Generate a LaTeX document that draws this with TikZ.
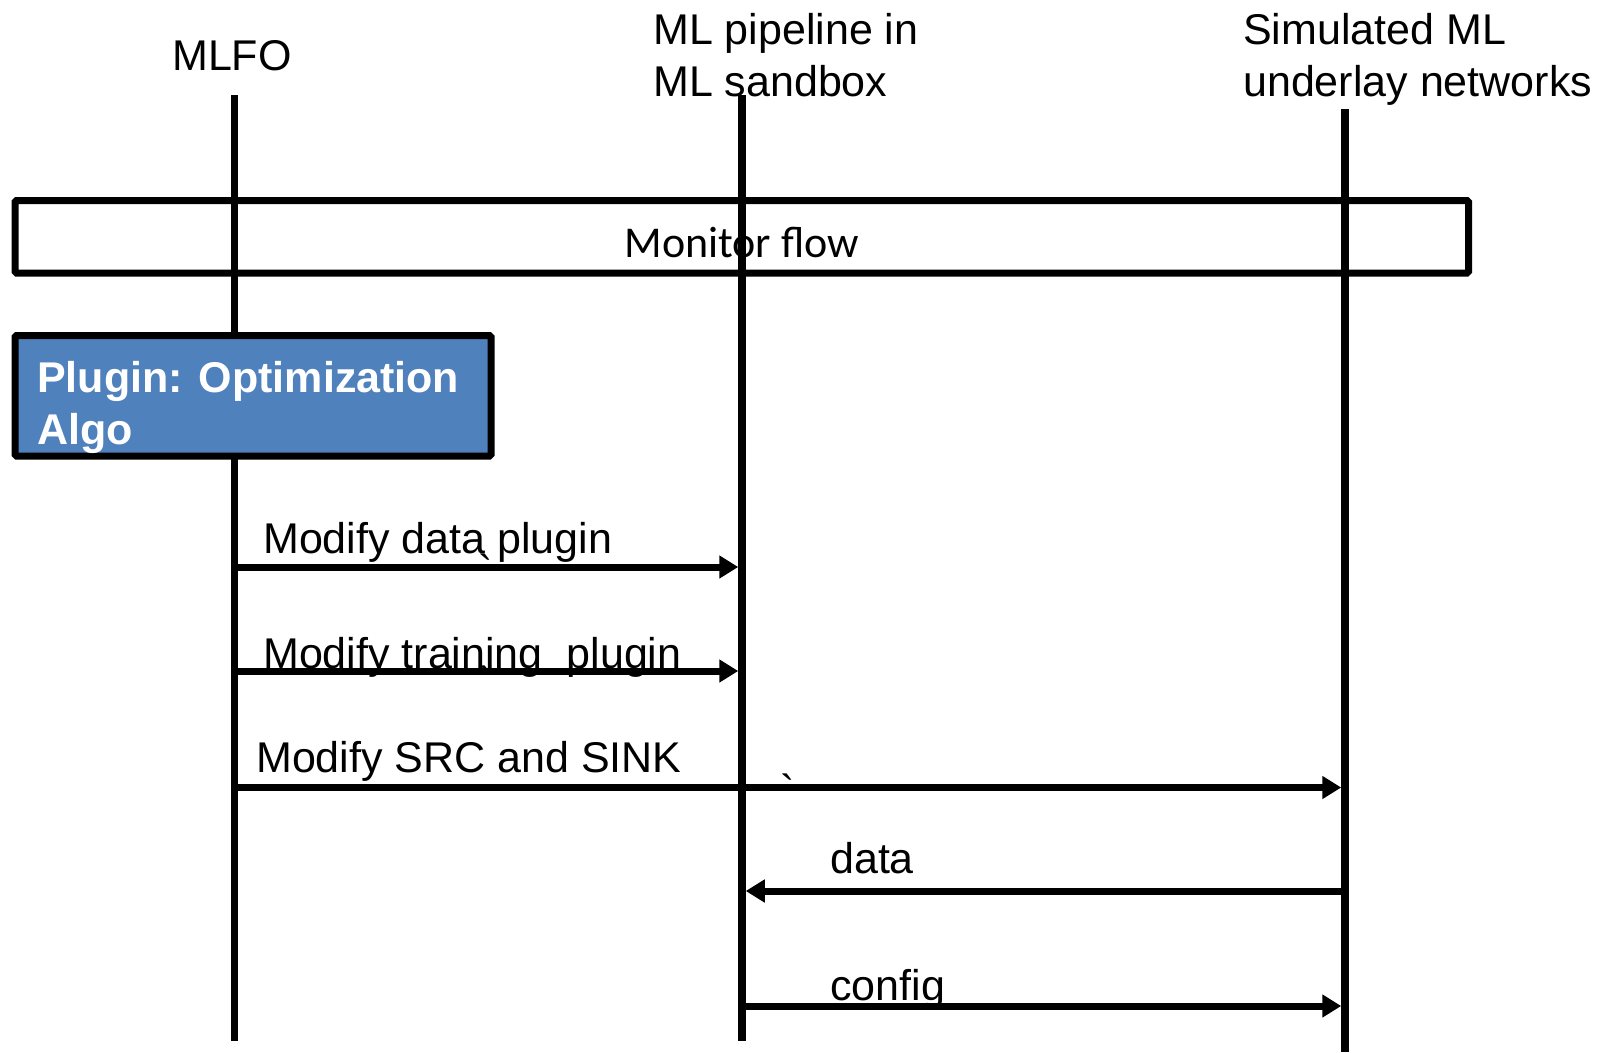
\documentclass[tikz,border=0pt]{standalone}
\usepackage{fontspec}
\setmainfont{Liberation Sans}
\newfontfamily\framefont{Carlito}
\usetikzlibrary{arrows.meta}
\definecolor{pluginblue}{HTML}{4F81BD}
\begin{document}
\begin{tikzpicture}[x=1pt,y=-1pt,
  txt/.style={inner sep=0pt, anchor=base west, font=\fontsize{43}{52}\selectfont},
  heading/.style={txt, align=left},
  lifeline/.style={line width=7.5pt},
  framebox/.style={draw, line width=7pt, rounded corners=1.5pt, inner sep=0pt, outer sep=0pt},
  msg/.style={line width=7pt, -{Triangle[length=19pt,width=22pt]}},
  stray/.style={inner sep=0pt, anchor=base, font=\fontsize{43}{52}\selectfont}
]
\useasboundingbox (0,0) rectangle (1608,1052);

% participants (multi-line headings are placed by their last baseline)
\node[txt] (mlfo) at (172,70) {MLFO};
\node[heading] (pipe) at (653,96) {ML pipeline in\\ML sandbox};
\node[heading] (sim) at (1243,96) {Simulated ML\\underlay networks};

\coordinate (mlfoTop) at (234.5,95);
\coordinate (mlfoBot) at (234.5,1041);
\coordinate (pipeTop) at (742,95);
\coordinate (pipeBot) at (742,1041);
\coordinate (simTop) at (1345,109);
\coordinate (simBot) at (1345,1052);

% monitor frame across all lifelines (lifelines are drawn over it)
\node[framebox, minimum width=1453.5pt, minimum height=72.5pt,
      text height=42pt, text depth=0pt,
      font=\framefont\fontsize{44}{52}\selectfont] (monitor) at (741.75,236.75) {Monitor flow};

% lifelines
\draw[lifeline] (mlfoTop) -- (mlfoBot);
\draw[lifeline] (pipeTop) -- (pipeBot);
\draw[lifeline] (simTop) -- (simBot);

% plugin box covering the MLFO lifeline
\node[framebox, fill=pluginblue, anchor=north west,
      minimum width=476pt, minimum height=120.5pt] (plugin) at (15,335.5) {};
\node[txt, align=left, text=white, font=\bfseries\fontsize{43}{52}\selectfont]
      (pluginText) at (37,444) {Plugin: Optimization\\Algo};

% message end points
\coordinate (m1s) at (234.5,567);  \coordinate (m1e) at (738.25,567);
\coordinate (m2s) at (234.5,671);  \coordinate (m2e) at (738.25,671);
\coordinate (m3s) at (234.5,787.5);\coordinate (m3e) at (1341.25,787.5);
\coordinate (m4s) at (1345,891);   \coordinate (m4e) at (745.75,891);
\coordinate (m5s) at (742,1006);   \coordinate (m5e) at (1341.25,1006);

% message labels
\node[txt] (l1) at (263,553) {Modify data plugin};
\node[txt] (l2) at (263,668) {Modify training\ \ plugin};
\node[txt] (l3) at (256,772) {Modify SRC and SINK};
\node[txt] (l4) at (830,873) {data};
\node[txt] (l5) at (830,1000) {config};

% stray grave marks
\node[stray] (g1) at (486,585) {\textasciigrave};
\node[stray] (g2) at (486,697) {\textasciigrave};
\node[stray] (g3) at (788,805) {\textasciigrave};

% messages
\draw[msg] (m1s) -- (m1e);
\draw[msg] (m2s) -- (m2e);
\draw[msg] (m3s) -- (m3e);
\draw[msg] (m4s) -- (m4e);
\draw[msg] (m5s) -- (m5e);
\end{tikzpicture}
\end{document}
